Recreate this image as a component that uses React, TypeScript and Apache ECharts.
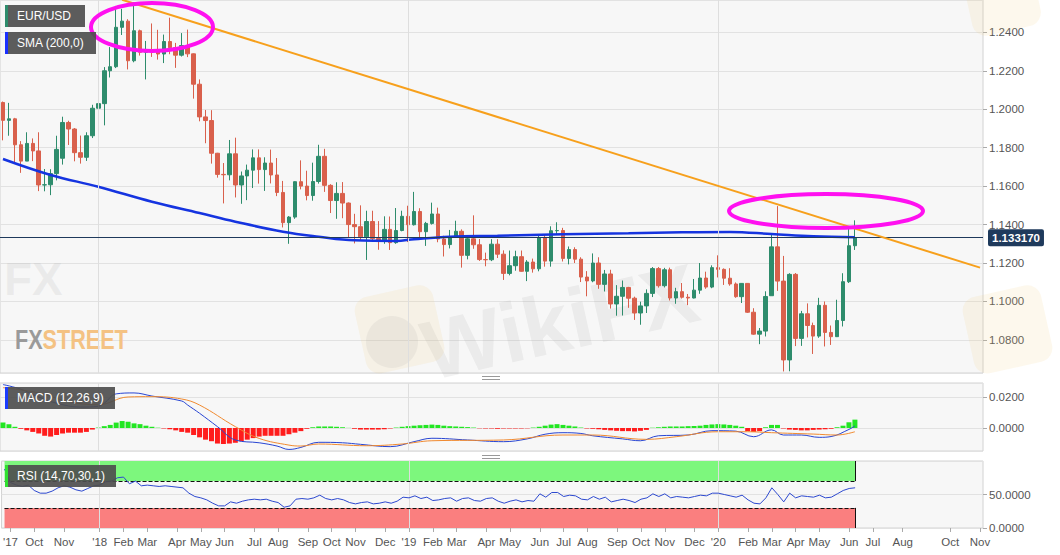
import React, { useEffect, useRef } from "react";
import * as echarts from "echarts";

// ---------- categories (weekly bars) ----------
const START = Date.UTC(2017, 8, 11);
const WEEKS = 165;
const categories: string[] = Array.from({ length: WEEKS }, (_, i) =>
  new Date(START + i * 7 * 86400000).toISOString().slice(0, 10)
);

// ---------- x tick labels (category index -> text) ----------
const labelIdx = [1, 5, 10, 16, 20, 24, 29, 33, 37, 42, 46, 51, 55, 59, 64, 68, 72, 76, 81, 85, 90, 94, 98, 103, 107, 111, 116, 120, 125, 129, 133, 137, 142, 146, 151, 159, 164];
const labelTxt = ["'17", "Oct", "Nov", "'18", "Feb", "Mar", "Apr", "May", "Jun", "Jul", "Aug", "Sep", "Oct", "Nov", "Dec", "'19", "Feb", "Mar", "Apr", "May", "Jun", "Jul", "Aug", "Sep", "Oct", "Nov", "Dec", "'20", "Feb", "Mar", "Apr", "May", "Jun", "Jul", "Aug", "Oct", "Nov"];
const yearIdx = [16, 68, 120];

// ---------- EUR/USD weekly candles: [open, close, low, high] ----------
const candles: number[][] = [
  [1.2035, 1.1942, 1.1838, 1.2040], [1.1942, 1.1950, 1.1862, 1.2033], [1.1950, 1.1815, 1.1717, 1.1955], [1.1815, 1.1730, 1.1669, 1.1834],
  [1.1730, 1.1822, 1.1730, 1.1880], [1.1822, 1.1783, 1.1730, 1.1848], [1.1783, 1.1606, 1.1574, 1.1880], [1.1606, 1.1607, 1.1573, 1.1689],
  [1.1607, 1.1665, 1.1553, 1.1688], [1.1665, 1.1791, 1.1630, 1.1862], [1.1745, 1.1931, 1.1712, 1.1961], [1.1931, 1.1897, 1.1814, 1.1940],
  [1.1897, 1.1774, 1.1729, 1.1902], [1.1774, 1.1750, 1.1717, 1.1863], [1.1750, 1.1862, 1.1731, 1.1880], [1.1862, 1.2005, 1.1850, 1.2023],
  [1.2005, 1.2029, 1.1990, 1.2089], [1.2029, 1.2200, 1.1916, 1.2219], [1.2200, 1.2221, 1.2165, 1.2323], [1.2221, 1.2426, 1.2214, 1.2537],
  [1.2426, 1.2458, 1.2386, 1.2522], [1.2458, 1.2252, 1.2207, 1.2468], [1.2252, 1.2408, 1.2244, 1.2555], [1.2408, 1.2296, 1.2279, 1.2414],
  [1.2296, 1.2310, 1.2155, 1.2355], [1.2310, 1.2306, 1.2272, 1.2446], [1.2306, 1.2287, 1.2258, 1.2413], [1.2287, 1.2352, 1.2240, 1.2388],
  [1.2352, 1.2320, 1.2286, 1.2476], [1.2320, 1.2281, 1.2215, 1.2345], [1.2281, 1.2331, 1.2274, 1.2396], [1.2331, 1.2288, 1.2271, 1.2414],
  [1.2288, 1.2130, 1.2055, 1.2290], [1.2130, 1.1960, 1.1937, 1.2155], [1.1960, 1.1941, 1.1823, 1.1996], [1.1941, 1.1771, 1.1717, 1.1995],
  [1.1771, 1.1661, 1.1644, 1.1773], [1.1661, 1.1659, 1.1510, 1.1720], [1.1659, 1.1768, 1.1630, 1.1840], [1.1768, 1.1606, 1.1541, 1.1852],
  [1.1606, 1.1653, 1.1508, 1.1676], [1.1653, 1.1683, 1.1527, 1.1712], [1.1683, 1.1747, 1.1590, 1.1791], [1.1747, 1.1686, 1.1613, 1.1791],
  [1.1686, 1.1720, 1.1575, 1.1750], [1.1720, 1.1658, 1.1614, 1.1790], [1.1658, 1.1567, 1.1548, 1.1746], [1.1567, 1.1410, 1.1385, 1.1627],
  [1.1410, 1.1439, 1.1300, 1.1444], [1.1439, 1.1623, 1.1430, 1.1625], [1.1623, 1.1600, 1.1583, 1.1734], [1.1600, 1.1551, 1.1526, 1.1680],
  [1.1551, 1.1624, 1.1524, 1.1722], [1.1624, 1.1755, 1.1613, 1.1815], [1.1755, 1.1604, 1.1570, 1.1794], [1.1604, 1.1525, 1.1460, 1.1610],
  [1.1525, 1.1562, 1.1430, 1.1620], [1.1562, 1.1512, 1.1433, 1.1621], [1.1512, 1.1400, 1.1335, 1.1515], [1.1400, 1.1389, 1.1302, 1.1456],
  [1.1389, 1.1336, 1.1315, 1.1500], [1.1336, 1.1416, 1.1216, 1.1472], [1.1416, 1.1327, 1.1319, 1.1472], [1.1327, 1.1313, 1.1269, 1.1418],
  [1.1313, 1.1375, 1.1300, 1.1443], [1.1375, 1.1306, 1.1268, 1.1442], [1.1306, 1.1369, 1.1300, 1.1486], [1.1369, 1.1443, 1.1365, 1.1472],
  [1.1443, 1.1399, 1.1309, 1.1498], [1.1399, 1.1468, 1.1395, 1.1570], [1.1468, 1.1363, 1.1333, 1.1485], [1.1363, 1.1406, 1.1289, 1.1414],
  [1.1406, 1.1455, 1.1400, 1.1514], [1.1455, 1.1325, 1.1308, 1.1488], [1.1325, 1.1296, 1.1234, 1.1342], [1.1296, 1.1334, 1.1276, 1.1372],
  [1.1334, 1.1365, 1.1330, 1.1420], [1.1365, 1.1240, 1.1176, 1.1375], [1.1240, 1.1326, 1.1219, 1.1339], [1.1326, 1.1295, 1.1274, 1.1448],
  [1.1295, 1.1218, 1.1211, 1.1325], [1.1218, 1.1217, 1.1183, 1.1254], [1.1217, 1.1298, 1.1210, 1.1324], [1.1298, 1.1246, 1.1226, 1.1324],
  [1.1246, 1.1146, 1.1112, 1.1266], [1.1146, 1.1186, 1.1136, 1.1265], [1.1186, 1.1233, 1.1160, 1.1264], [1.1233, 1.1157, 1.1155, 1.1265],
  [1.1157, 1.1205, 1.1106, 1.1215], [1.1205, 1.1170, 1.1150, 1.1223], [1.1170, 1.1333, 1.1157, 1.1348], [1.1333, 1.1210, 1.1181, 1.1346],
  [1.1210, 1.1368, 1.1181, 1.1391], [1.1368, 1.1369, 1.1346, 1.1412], [1.1369, 1.1224, 1.1208, 1.1383], [1.1224, 1.1270, 1.1193, 1.1286],
  [1.1270, 1.1220, 1.1200, 1.1282], [1.1220, 1.1127, 1.1101, 1.1230], [1.1127, 1.1107, 1.1027, 1.1158], [1.1107, 1.1200, 1.1100, 1.1250],
  [1.1200, 1.1089, 1.1066, 1.1230], [1.1089, 1.1143, 1.1052, 1.1164], [1.1143, 1.0987, 1.0963, 1.1165], [1.0987, 1.1027, 1.0926, 1.1085],
  [1.1027, 1.1073, 1.0927, 1.1109], [1.1073, 1.1017, 1.0967, 1.1076], [1.1017, 1.0940, 1.0904, 1.1025], [1.0940, 1.0977, 1.0879, 1.0999],
  [1.0977, 1.1042, 1.0940, 1.1063], [1.1042, 1.1171, 1.1023, 1.1179], [1.1171, 1.1082, 1.1072, 1.1179], [1.1082, 1.1165, 1.1073, 1.1175],
  [1.1165, 1.1018, 1.1005, 1.1176], [1.1018, 1.1051, 1.0988, 1.1071], [1.1051, 1.1022, 1.1015, 1.1096], [1.1022, 1.1018, 1.0981, 1.1039],
  [1.1018, 1.1059, 1.1016, 1.1117], [1.1059, 1.1122, 1.1040, 1.1200], [1.1122, 1.1075, 1.1066, 1.1155], [1.1075, 1.1176, 1.1069, 1.1188],
  [1.1176, 1.1167, 1.1125, 1.1240], [1.1167, 1.1121, 1.1086, 1.1172], [1.1121, 1.1091, 1.1082, 1.1173], [1.1091, 1.1025, 1.1019, 1.1099],
  [1.1025, 1.1094, 1.0992, 1.1096], [1.1094, 1.0944, 1.0940, 1.1095], [1.0944, 1.0830, 1.0827, 1.0965], [1.0830, 1.0846, 1.0778, 1.0862],
  [1.0846, 1.1026, 1.0818, 1.1053], [1.1030, 1.1284, 1.1030, 1.1355], [1.1284, 1.1106, 1.1055, 1.1496], [1.1106, 1.0696, 1.0636, 1.1237],
  [1.0696, 1.1141, 1.0637, 1.1147], [1.1141, 1.0808, 1.0768, 1.1148], [1.0808, 1.0936, 1.0769, 1.0951], [1.0936, 1.0875, 1.0813, 1.0990],
  [1.0875, 1.0820, 1.0727, 1.0890], [1.0820, 1.0980, 1.0811, 1.1019], [1.0980, 1.0839, 1.0766, 1.1000], [1.0839, 1.0817, 1.0774, 1.0875],
  [1.0817, 1.0901, 1.0815, 1.1009], [1.0901, 1.1103, 1.0870, 1.1147], [1.1103, 1.1290, 1.1096, 1.1384], [1.1290, 1.1332, 1.1268, 1.1422],
];
const lastPrice = 1.13317;

// ---------- SMA(200) readings: [category index, value] ----------
const smaIdx = [0, 8, 16, 25, 33, 39, 47, 53, 59, 66, 69, 75, 83, 94, 105, 114, 122, 129, 136, 143];
const smaVal = [1.1741, 1.1658, 1.1597, 1.1519, 1.1460, 1.1415, 1.1363, 1.1337, 1.1318, 1.1315, 1.1324, 1.1337, 1.1342, 1.1350, 1.1355, 1.1360, 1.1362, 1.1351, 1.1339, 1.1334];

// ---------- trend line: [category index, value] ----------
const trendIdx = [20, 164];
const trendVal = [1.2569, 1.1176];

// ---------- MACD (values in thousandths) ----------
const macdHist = [
  3.5, 2.5, 0.8, -0.5, -1.5, -2.5, -3.5, -5, -5.5, -4.5,
  -3.5, -3, -3, -3, -2.5, -1, 0.3, 1.2, 2, 3.5,
  4.5, 4, 3, 2.5, 1.5, 0.8, 0.2, -0.3, -0.8, -1.5,
  -2.5, -3, -4.5, -6, -7.5, -8.5, -10, -10.3, -10, -9.5,
  -8.5, -7.5, -6.5, -5.5, -5, -5, -5, -5, -4, -3,
  -2, -0.5, 0.5, 1, 1, 1, 0.8, 0.5, 0.1, -0.5,
  -1, -1, -1, -1, -0.8, -0.3, 0.3, 0.8, 1.2, 1.5,
  1.8, 2, 2.2, 2, 1.5, 1.2, 1, 0.8, 0.6, 0.3,
  -0.2, -0.3, -0.3, -0.5, -0.3, -0.3, -0.3, -0.3, -0.2, 0.3,
  0.8, 1.5, 2.2, 2.5, 2, 1.5, 1, 0.3, -0.3, -0.5,
  -0.8, -1.2, -1.5, -1.8, -2, -2, -2.2, -1.8, -1.2, 0.2,
  0.5, 0.8, 1, 1, 1, 1.2, 1.3, 1.5, 2, 2.3,
  2.5, 2.3, 2, 1.5, 0.8, -2, -2.5, -2, 0.5, 2,
  2, -0.3, -1, -1.2, -1.5, -1.5, -1.2, -1, -0.8, -0.5,
  0.5, 1.5, 3.7, 5.4,
];
const macdIdx = [0, 3, 6, 9, 13, 16, 17, 19, 22, 25, 30, 31, 33, 36, 39, 43, 46, 48, 50, 53, 57, 60, 65, 69, 72, 78, 84, 88, 91, 94, 97, 99, 104, 107, 110, 115, 119, 123, 126, 129, 131, 134, 137, 139, 142, 143];
const macdVal = [28, 25, 20, 16, 13.5, 14, 16, 22, 22.6, 20.6, 17.4, 14.8, 9.5, 0.9, -7.7, -9.5, -11.6, -13.8, -12.5, -9.2, -9.5, -10.5, -12, -8.8, -6.6, -7.7, -8.8, -7, -4, -3, -3.5, -5, -7, -8.2, -5, -4.5, -1.7, -2, -5.6, -1.2, -4.5, -4.5, -6, -5.5, -0.9, 1.3];
const signalIdx = [0, 6, 11, 16, 21, 25, 30, 33, 39, 43, 48, 50, 53, 61, 67, 72, 84, 94, 99, 108, 113, 120, 125, 129, 136, 140, 143];
const signalVal = [26, 22.6, 17, 15, 20, 20.2, 18.7, 14.8, 0.9, -6.7, -11, -11.6, -10.3, -11.4, -10.3, -8.2, -7.7, -4.5, -4.5, -7.3, -5.6, -2.4, -2.4, -3, -3.9, -4.5, -2.4];

// ---------- RSI(14) ----------
const rsi = [
  88, 68, 64, 62, 64, 56, 52, 52, 55, 60,
  63, 61, 57, 55, 59, 63, 64, 69, 70, 75,
  76, 66, 70, 63, 64, 63, 62, 63, 62, 61,
  60, 52, 47, 45, 42, 37, 33, 33, 39, 37,
  40, 42, 43, 42, 43, 40, 38, 31, 33, 43,
  44, 43, 45, 49, 44, 42, 44, 42, 38, 36,
  38, 39, 36, 37, 39, 37, 40, 46, 45, 48,
  44, 46, 41, 42, 44, 45, 40, 44, 45, 41,
  40, 44, 45, 40, 37, 40, 42, 39, 41, 40,
  51, 46, 53, 53, 47, 49, 48, 43, 42, 47,
  43, 46, 39, 41, 43, 41, 38, 43, 45, 51,
  47, 51, 45, 47, 46, 45, 47, 49, 48, 52,
  52, 50, 48, 46, 49, 42, 37, 36, 45, 60,
  50, 39, 52, 45, 48, 47, 46, 49, 45, 46,
  51, 56, 59, 60,
];
const rsiUpper = 70;
const rsiLower = 30;

const UP = "#2e8c6c";
const DOWN = "#d9604c";
const FONT = "'Liberation Sans', Arial, sans-serif";

const labelMap: Record<number, string> = {};
labelIdx.forEach((i, k) => (labelMap[i] = labelTxt[k]));
const showLabel = (i: number) => labelMap[i] !== undefined;

function labelBox(x: number, y: number, w: number, text: string, stripe: string) {
  return {
    type: "group",
    x,
    y,
    z: 300,
    children: [
      { type: "rect", z: 300, shape: { x: 0, y: 0, width: w, height: 22 }, style: { fill: "rgba(78,78,78,0.92)" } },
      { type: "rect", z: 301, shape: { x: 0, y: 0, width: 3, height: 22 }, style: { fill: stripe } },
      { type: "text", z: 302, x: 12, y: 11, style: { text, fill: "#ffffff", fontSize: 12, fontFamily: FONT, verticalAlign: "middle" } },
    ],
  };
}

export default function App() {
  const ref = useRef<HTMLDivElement>(null);
  useEffect(() => {
    if (!ref.current) return;
    const chart = echarts.init(ref.current, undefined, { renderer: "svg" });
    const gridBase = { left: -3, right: 77, show: true, backgroundColor: "#f7f7f7", borderColor: "#d2d2d2", borderWidth: 1 };
    const yearLines = yearIdx.map((i) => ({ xAxis: categories[i], lineStyle: { color: "#dedede", type: "solid", width: 1 }, label: { show: false } }));
    const option: any = {
      animation: false,
      backgroundColor: "#ffffff",
      textStyle: { fontFamily: FONT },
      grid: [
        { ...gridBase, top: 0, height: 373 },
        { ...gridBase, top: 383, height: 68 },
        { ...gridBase, top: 461, height: 67 },
      ],
      xAxis: [0, 1, 2].map((g) => ({
        type: "category",
        gridIndex: g,
        data: categories,
        boundaryGap: true,
        axisLine: { show: false },
        axisTick: { show: g === 2, interval: (i: number) => showLabel(i), alignWithLabel: true, length: 4, lineStyle: { color: "#aaaaaa" } },
        axisLabel: {
          show: g === 2,
          interval: (i: number) => showLabel(i),
          formatter: (_v: string, i: number) => labelMap[i] ?? "",
          color: "#555555",
          fontSize: 11.5,
          margin: 8,
        },
        splitLine: { show: false },
      })),
      yAxis: [
        {
          gridIndex: 0, position: "right", min: 1.0628, max: 1.2568, splitNumber: 10,
          axisLine: { show: false }, axisTick: { show: true, length: 4, lineStyle: { color: "#aaaaaa" } },
          axisLabel: { formatter: (v: number) => v.toFixed(4), showMinLabel: false, showMaxLabel: false, color: "#555555", fontSize: 11.5, margin: 6 },
          splitLine: { lineStyle: { color: "#e2e2e2" } },
        },
        {
          gridIndex: 1, position: "right", min: -0.0148, max: 0.029, splitNumber: 2,
          axisLine: { show: false }, axisTick: { show: true, length: 4, lineStyle: { color: "#aaaaaa" } },
          axisLabel: { formatter: (v: number) => v.toFixed(4), showMinLabel: false, showMaxLabel: false, color: "#555555", fontSize: 11.5, margin: 6 },
          splitLine: { lineStyle: { color: "#e2e2e2" } },
        },
        {
          gridIndex: 2, position: "right", min: 0, max: 100, interval: 50,
          axisLine: { show: false }, axisTick: { show: true, length: 4, lineStyle: { color: "#aaaaaa" } },
          axisLabel: { formatter: (v: number) => v.toFixed(4), showMaxLabel: false, color: "#555555", fontSize: 11.5, margin: 6 },
          splitLine: { lineStyle: { color: "#e2e2e2" } },
        },
      ],
      series: [
        {
          type: "candlestick",
          xAxisIndex: 0,
          yAxisIndex: 0,
          data: candles,
          barWidth: 4,
          itemStyle: { color: UP, color0: DOWN, borderColor: UP, borderColor0: DOWN, borderWidth: 1 },
          markLine: { silent: true, symbol: ["none", "none"], data: yearLines },
        },
        {
          type: "line", xAxisIndex: 0, yAxisIndex: 0, smooth: 0.4, showSymbol: false, z: 4,
          data: smaIdx.map((i, k) => [categories[i], smaVal[k]]),
          lineStyle: { color: "#1534e0", width: 2.5 },
          markLine: {
            silent: true,
            precision: 6,
            symbol: ["none", "none"],
            data: [
              {
                yAxis: lastPrice,
                lineStyle: { color: "#1f3a5c", type: "solid", width: 1 },
                label: {
                  show: true, position: "end", formatter: lastPrice.toFixed(6), color: "#ffffff", fontWeight: "bold",
                  backgroundColor: "#1f3a5c", padding: [3, 4, 2, 4], borderRadius: 2, fontSize: 11.5, distance: 5,
                },
              },
            ],
          },
        },
        {
          type: "line", xAxisIndex: 0, yAxisIndex: 0, showSymbol: false, z: 5,
          data: trendIdx.map((i, k) => [categories[i], trendVal[k]]),
          lineStyle: { color: "#f7a01c", width: 2 },
        },
        {
          type: "bar", xAxisIndex: 1, yAxisIndex: 1, barWidth: 5,
          data: macdHist.map((v) => v / 1000),
          itemStyle: { color: (p: any) => (p.value >= 0 ? "#22e622" : "#ff1c1c") },
          markLine: { silent: true, symbol: ["none", "none"], data: yearLines },
        },
        {
          type: "line", xAxisIndex: 1, yAxisIndex: 1, smooth: 0.4, showSymbol: false,
          data: macdIdx.map((i, k) => [categories[i], macdVal[k] / 1000]),
          lineStyle: { color: "#2845d2", width: 1 },
        },
        {
          type: "line", xAxisIndex: 1, yAxisIndex: 1, smooth: 0.4, showSymbol: false,
          data: signalIdx.map((i, k) => [categories[i], signalVal[k] / 1000]),
          lineStyle: { color: "#f08a30", width: 1 },
        },
        {
          type: "line", xAxisIndex: 2, yAxisIndex: 2, showSymbol: false, z: 5,
          data: rsi,
          lineStyle: { color: "#2c48cf", width: 1 },
          markArea: {
            silent: true,
            data: [
              [{ xAxis: categories[0], yAxis: rsiUpper, itemStyle: { color: "#7df77d", opacity: 1 } }, { xAxis: categories[rsi.length - 1], yAxis: 100 }],
              [{ xAxis: categories[0], yAxis: 0, itemStyle: { color: "#fa7f7f", opacity: 1 } }, { xAxis: categories[rsi.length - 1], yAxis: rsiLower }],
            ],
          },
          markLine: {
            silent: true,
            symbol: ["none", "none"],
            label: { show: false },
            data: [
              ...yearLines,
              [{ coord: [categories[0], rsiUpper], lineStyle: { color: "#111", type: "dashed", width: 1 } }, { coord: [categories[rsi.length - 1], rsiUpper] }],
              [{ coord: [categories[0], rsiLower], lineStyle: { color: "#111", type: "dashed", width: 1 } }, { coord: [categories[rsi.length - 1], rsiLower] }],
              [{ coord: [categories[rsi.length - 1], rsiUpper], lineStyle: { color: "#111", type: "solid", width: 1 } }, { coord: [categories[rsi.length - 1], 100] }],
              [{ coord: [categories[rsi.length - 1], 0], lineStyle: { color: "#111", type: "solid", width: 1 } }, { coord: [categories[rsi.length - 1], rsiLower] }],
            ],
          },
        },
      ],
      graphic: [
        // faint watermarks
        {
          type: "text", x: 560, y: 322, rotation: 0.22, z: 1,
          style: { text: "WikiFX", fontSize: 84, fontWeight: "bold", fontFamily: FONT, fill: "rgba(150,150,150,0.12)", align: "center", verticalAlign: "middle" },
        },
        { type: "rect", x: 352, y: 300, rotation: 0.22, z: 1, shape: { x: 0, y: 0, width: 80, height: 78, r: 14 }, style: { fill: "rgba(242,205,130,0.14)" } },
        { type: "circle", x: 392, y: 342, z: 1, shape: { r: 26 }, style: { fill: "rgba(150,150,150,0.11)" } },
        { type: "text", x: 4, y: 256, z: 1, style: { text: "FX", fontSize: 46, fontWeight: "bold", fontFamily: FONT, fill: "rgba(150,150,150,0.12)" } },
        { type: "rect", x: 960, y: 300, rotation: 0.22, z: 1, shape: { x: 0, y: 0, width: 80, height: 78, r: 14 }, style: { fill: "rgba(242,205,130,0.14)" } },
        { type: "rect", x: 960, y: -30, rotation: 0.22, z: 1, shape: { x: 0, y: 0, width: 70, height: 70, r: 14 }, style: { fill: "rgba(242,205,130,0.14)" } },
        {
          type: "text", x: 15, y: 340, z: 2, scaleX: 0.8,
          style: {
            text: "{a|FX}{b|STREET}",
            verticalAlign: "middle",
            rich: {
              a: { fontSize: 27, fontWeight: "bold", fontFamily: FONT, fill: "#9a9a9a" },
              b: { fontSize: 27, fontWeight: "bold", fontFamily: FONT, fill: "#f4c283" },
            },
          },
        },
        // panel resize handles
        { type: "line", z: 200, shape: { x1: 482, y1: 376.5, x2: 500, y2: 376.5 }, style: { stroke: "#999", lineWidth: 1 } },
        { type: "line", z: 200, shape: { x1: 482, y1: 379.5, x2: 500, y2: 379.5 }, style: { stroke: "#999", lineWidth: 1 } },
        { type: "line", z: 200, shape: { x1: 482, y1: 455.5, x2: 500, y2: 455.5 }, style: { stroke: "#999", lineWidth: 1 } },
        { type: "line", z: 200, shape: { x1: 482, y1: 458.5, x2: 500, y2: 458.5 }, style: { stroke: "#999", lineWidth: 1 } },
        // annotation ellipses
        { type: "ellipse", z: 250, shape: { cx: 152, cy: 27, rx: 61, ry: 24 }, style: { fill: "none", stroke: "#ff10f0", lineWidth: 4 } },
        { type: "ellipse", z: 250, shape: { cx: 826, cy: 211, rx: 97, ry: 17 }, style: { fill: "none", stroke: "#ff10f0", lineWidth: 4 } },
        // legend boxes
        labelBox(5, 5, 80, "EUR/USD", "#2e8c6c"),
        labelBox(5, 32, 91, "SMA (200,0)", "#1a30ff"),
        labelBox(5, 387, 110, "MACD (12,26,9)", "#1a3cff"),
        labelBox(5, 465, 111, "RSI (14,70,30,1)", "#30e030"),
      ],
    };
    chart.setOption(option);
    return () => chart.dispose();
  }, []);
  return <div ref={ref} style={{ position: "fixed", left: 0, top: 0, width: 1060, height: 555 }} />;
}
